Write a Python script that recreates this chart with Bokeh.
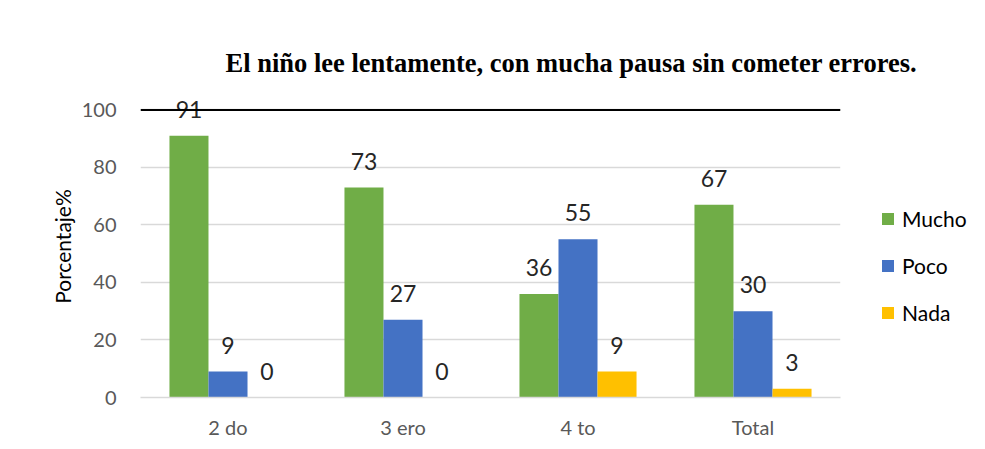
from bokeh.plotting import figure
from bokeh.models import (ColumnDataSource, FactorRange, Range1d, Span, Legend, LegendItem,
                          FixedTicker, Title)
from bokeh.transform import dodge
from bokeh.core.properties import value
from bokeh.embed import file_html
from bokeh.resources import INLINE

categories = ["2 do", "3 ero", "4 to", "Total"]
mucho = [91, 73, 36, 67]
poco = [9, 27, 55, 30]
nada = [0, 0, 9, 3]
series_names = ["Mucho", "Poco", "Nada"]
colors = ["#70AD47", "#4472C4", "#FFC000"]
y_ticks = [0, 20, 40, 60, 80, 100]

title_text = "El niño lee lentamente, con mucha pausa sin cometer errores."
y_label = "Porcentaje%"

src = ColumnDataSource(dict(
    cats=categories,
    mucho=mucho, poco=poco, nada=nada,
    mucho_t=[str(v) for v in mucho],
    poco_t=[str(v) for v in poco],
    nada_t=[str(v) for v in nada],
))

FONT = "Lato"

p = figure(x_range=FactorRange(*categories), y_range=Range1d(0, 105),
           frame_width=700, frame_height=302,
           min_border_left=140, min_border_right=137, min_border_top=95, min_border_bottom=44,
           output_backend="svg", toolbar_location=None, title=None)
p.outline_line_color = None

t = Title(text=title_text, align="left", offset=85, standoff=36,
          text_font="Liberation Serif", text_font_size="26.5px", text_font_style="bold",
          text_color="black")
p.add_layout(t, "above")

bw = 0.223
offs = [-bw, 0.0, bw]
cols = ["mucho", "poco", "nada"]
renderers = []
for c, off, col in zip(cols, offs, colors):
    r = p.vbar(x=dodge("cats", off, range=p.x_range), top=c, width=bw, bottom=0,
               source=src, fill_color=col, line_color=None)
    renderers.append(r)
    p.text(x=dodge("cats", off, range=p.x_range), y=c, text=c + "_t", source=src,
           text_align="center", text_baseline="bottom", y_offset=-18,
           text_font=value(FONT), text_font_size="23px", text_color="#262626")

p.add_layout(Span(location=100, dimension="width", line_color="black", line_width=2))

# axes
p.yaxis.ticker = FixedTicker(ticks=y_ticks)
p.yaxis.axis_line_color = None
p.yaxis.major_tick_line_color = None
p.yaxis.minor_tick_line_color = None
p.yaxis.major_label_text_font = FONT
p.yaxis.major_label_text_font_size = "20px"
p.yaxis.major_label_text_color = "#595959"
p.yaxis.major_label_standoff = 18
p.yaxis.axis_label = y_label
p.yaxis.axis_label_text_font = FONT
p.yaxis.axis_label_text_font_size = "21px"
p.yaxis.axis_label_text_font_style = "normal"
p.yaxis.axis_label_text_color = "black"
p.yaxis.axis_label_standoff = 4

p.xaxis.axis_line_color = "#d9d9d9"
p.xaxis.axis_line_width = 1.5
p.xaxis.major_tick_line_color = None
p.xaxis.minor_tick_line_color = None
p.xaxis.major_label_text_font = FONT
p.xaxis.major_label_text_font_size = "20px"
p.xaxis.major_label_text_color = "#595959"
p.xaxis.major_label_standoff = 11

p.xgrid.grid_line_color = None
p.ygrid.grid_line_color = "#d9d9d9"
p.ygrid.grid_line_width = 1.5

legend = Legend(items=[LegendItem(label=n, renderers=[r]) for n, r in zip(series_names, renderers)],
                location=(40, 72), orientation="vertical",
                label_text_font=FONT, label_text_font_size="21px", label_text_color="black",
                glyph_width=15, glyph_height=15, label_height=22, spacing=22,
                label_standoff=7, padding=0, margin=0, border_line_color=None,
                background_fill_alpha=0)
p.add_layout(legend, "right")

open("out.html", "w").write(file_html(p, INLINE))
